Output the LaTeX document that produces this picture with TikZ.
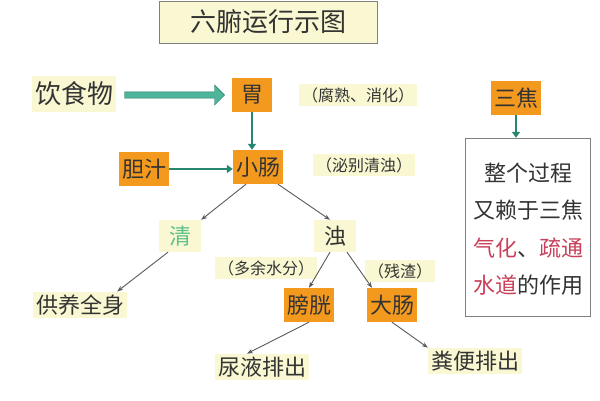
\documentclass[tikz,border=0pt]{standalone}
\usepackage{fontspec}
\newfontfamily\cjk{Noto Sans CJK SC}
\usetikzlibrary{arrows.meta,shapes.arrows}
\definecolor{pale}{HTML}{FAF8D2}
\definecolor{org}{HTML}{F39A1E}
\definecolor{teal}{HTML}{2FA889}
\definecolor{rd}{HTML}{C8405A}
\definecolor{grn}{HTML}{5BBF8A}
\begin{document}
\begin{tikzpicture}[x=1pt,y=-1pt,
  every node/.style={font=\cjk\fontsize{22}{24}\selectfont,text=black!80,inner sep=3pt},
  lbl/.style={fill=pale},
  org/.style={fill=org,minimum height=34pt},
  small/.style={fill=pale,font=\cjk\fontsize{16}{18}\selectfont},
  gl/.style={draw=black!65,line width=0.9pt,-{Stealth[length=6pt]}},
  tl/.style={draw=teal!80!black,line width=2.5pt,-{Triangle[length=6pt,width=8pt]}}]
\useasboundingbox (0,0) rectangle (600,400);
\node[draw=black!50,fill=pale,minimum width=218pt,minimum height=42pt,font=\cjk\fontsize{26}{28}\selectfont] (title) at (268,22) {六腑运行示图};
\node[lbl,font=\cjk\fontsize{26}{28}\selectfont,minimum height=36pt] (food) at (74,94) {饮食物};
\node[org,minimum width=40pt] (wei) at (252,95) {胃};
\node[small] (fs) at (358,95) {（腐熟、消化）};
\node[org] (xc) at (258,167) {小肠};
\node[org] (dz) at (144,169) {胆汁};
\node[small] (mb) at (364,165) {（泌别清浊）};
\node[org] (sj) at (516,98) {三焦};
\node[draw=black!50,fill=white,minimum width=125pt,minimum height=178pt] (box) at (528,227) {};
\node (t1) at (528,173) {整个过程};
\node (t2) at (528,210) {又赖于三焦};
\node (t3) at (528,248) {\textcolor{rd}{气化}、\textcolor{rd}{疏通}};
\node (t4) at (528,285) {\textcolor{rd}{水道}的作用};
\node[lbl,text=grn,minimum width=42pt,minimum height=32pt] (qing) at (180,236) {清};
\node[lbl,minimum width=42pt,minimum height=32pt] (zhuo) at (335,236) {浊};
\node[lbl] (gy) at (80,305) {供养全身};
\node[small] (dy) at (266,268) {（多余水分）};
\node[small] (cz) at (400,271) {（残渣）};
\node[org] (pg) at (309,305) {膀胱};
\node[org] (dc) at (392,305) {大肠};
\node[lbl] (ny) at (262,367) {尿液排出};
\node[lbl] (fb) at (475,361) {粪便排出};
% teal arrows
\node[single arrow,draw=teal!70!black,fill=teal!85,minimum height=100pt,minimum width=20pt,single arrow head extend=5pt,inner sep=2pt] (bigarr) at (173,95) {};
\draw[tl] (wei) -- (wei|-xc.north);
\draw[tl] (dz.east) -- (dz.east-|xc.west);
\draw[tl] (sj) -- (sj|-box.north);
% gray arrows
\draw[gl] ([xshift=-12pt]xc.south) -- (qing.north east);
\draw[gl] ([xshift=20pt]xc.south) -- ([xshift=-5pt]zhuo.north);
\draw[gl] ([xshift=-12pt]qing.south) -- ([xshift=-10pt]gy.north east);
\draw[gl] ([xshift=-5pt]zhuo.south) -- (pg.north);
\draw[gl] ([xshift=12pt]zhuo.south) -- ([xshift=-20pt]dc.north);
\draw[gl] (pg.south) -- ([xshift=-15pt]ny.north);
\draw[gl] (dc.south) -- (fb.north west);
\end{tikzpicture}
\end{document}
